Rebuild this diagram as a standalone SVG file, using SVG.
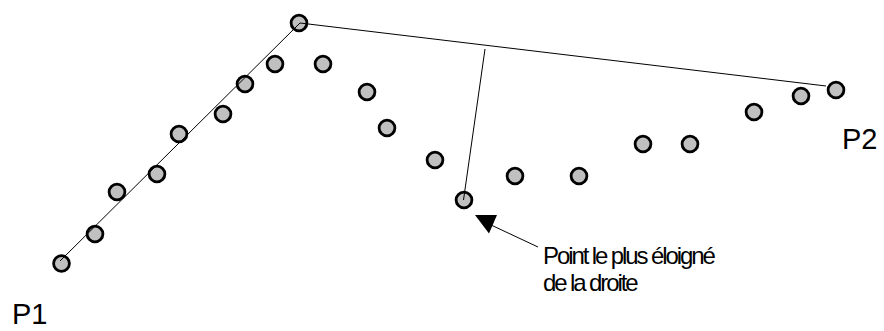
<svg xmlns="http://www.w3.org/2000/svg" width="884" height="331" viewBox="0 0 884 331">
<style>
.pt{fill:#c0c0c0;stroke:#000;stroke-width:2.8}
.ln{stroke:#000;stroke-width:1;fill:none}
.big{font-family:"Liberation Sans",Arial,sans-serif;font-size:29px;fill:#000}
.lbl{font-family:"Liberation Sans",Arial,sans-serif;font-size:24px;letter-spacing:-2.1px;fill:#000}
</style>
<rect width="884" height="331" fill="#fff"/>
<g id="points">
<g id="p1"><circle class="pt" cx="61.5" cy="263.5" r="7.9"/></g>
<g id="n2"><circle class="pt" cx="95" cy="234" r="7.9"/></g>
<g id="n3"><circle class="pt" cx="117" cy="192" r="7.9"/></g>
<g id="n4"><circle class="pt" cx="157" cy="174" r="7.9"/></g>
<g id="n5"><circle class="pt" cx="179" cy="134" r="7.9"/></g>
<g id="n6"><circle class="pt" cx="223" cy="114" r="7.9"/></g>
<g id="n7"><circle class="pt" cx="245" cy="84" r="7.9"/></g>
<g id="n8"><circle class="pt" cx="275" cy="64" r="7.9"/></g>
<g id="top"><circle class="pt" cx="299" cy="23" r="7.9"/></g>
<g id="n10"><circle class="pt" cx="323" cy="64" r="7.9"/></g>
<g id="n11"><circle class="pt" cx="367" cy="92" r="7.9"/></g>
<g id="n12"><circle class="pt" cx="387" cy="128" r="7.9"/></g>
<g id="n13"><circle class="pt" cx="435" cy="160" r="7.9"/></g>
<g id="far"><circle class="pt" cx="464" cy="200" r="7.9"/></g>
<g id="n15"><circle class="pt" cx="515" cy="176" r="7.9"/></g>
<g id="n16"><circle class="pt" cx="579" cy="176" r="7.9"/></g>
<g id="n17"><circle class="pt" cx="643" cy="144" r="7.9"/></g>
<g id="n18"><circle class="pt" cx="690" cy="144" r="7.9"/></g>
<g id="n19"><circle class="pt" cx="754" cy="112" r="7.9"/></g>
<g id="n20"><circle class="pt" cx="801" cy="96" r="7.9"/></g>
<g id="p2"><circle class="pt" cx="836" cy="90" r="7.9"/></g>
</g>
<g id="connectors">
<line class="ln" x1="60" y1="261" x2="300" y2="23"/>
<line class="ln" x1="300" y1="23" x2="826" y2="86"/>
<line class="ln" x1="485" y1="49" x2="463.5" y2="200"/>
<line class="ln" x1="490" y1="224.5" x2="538" y2="247"/>
<polygon points="475,215 497,215 489,233.5" fill="#000"/>
</g>
<g id="labels">
<text class="big" x="12" y="323.5">P1</text>
<text class="big" x="842" y="149">P2</text>
<text class="lbl" x="543" y="263.5">Point le plus éloigné</text>
<text class="lbl" x="543" y="291">de la droite</text>
</g>
</svg>
